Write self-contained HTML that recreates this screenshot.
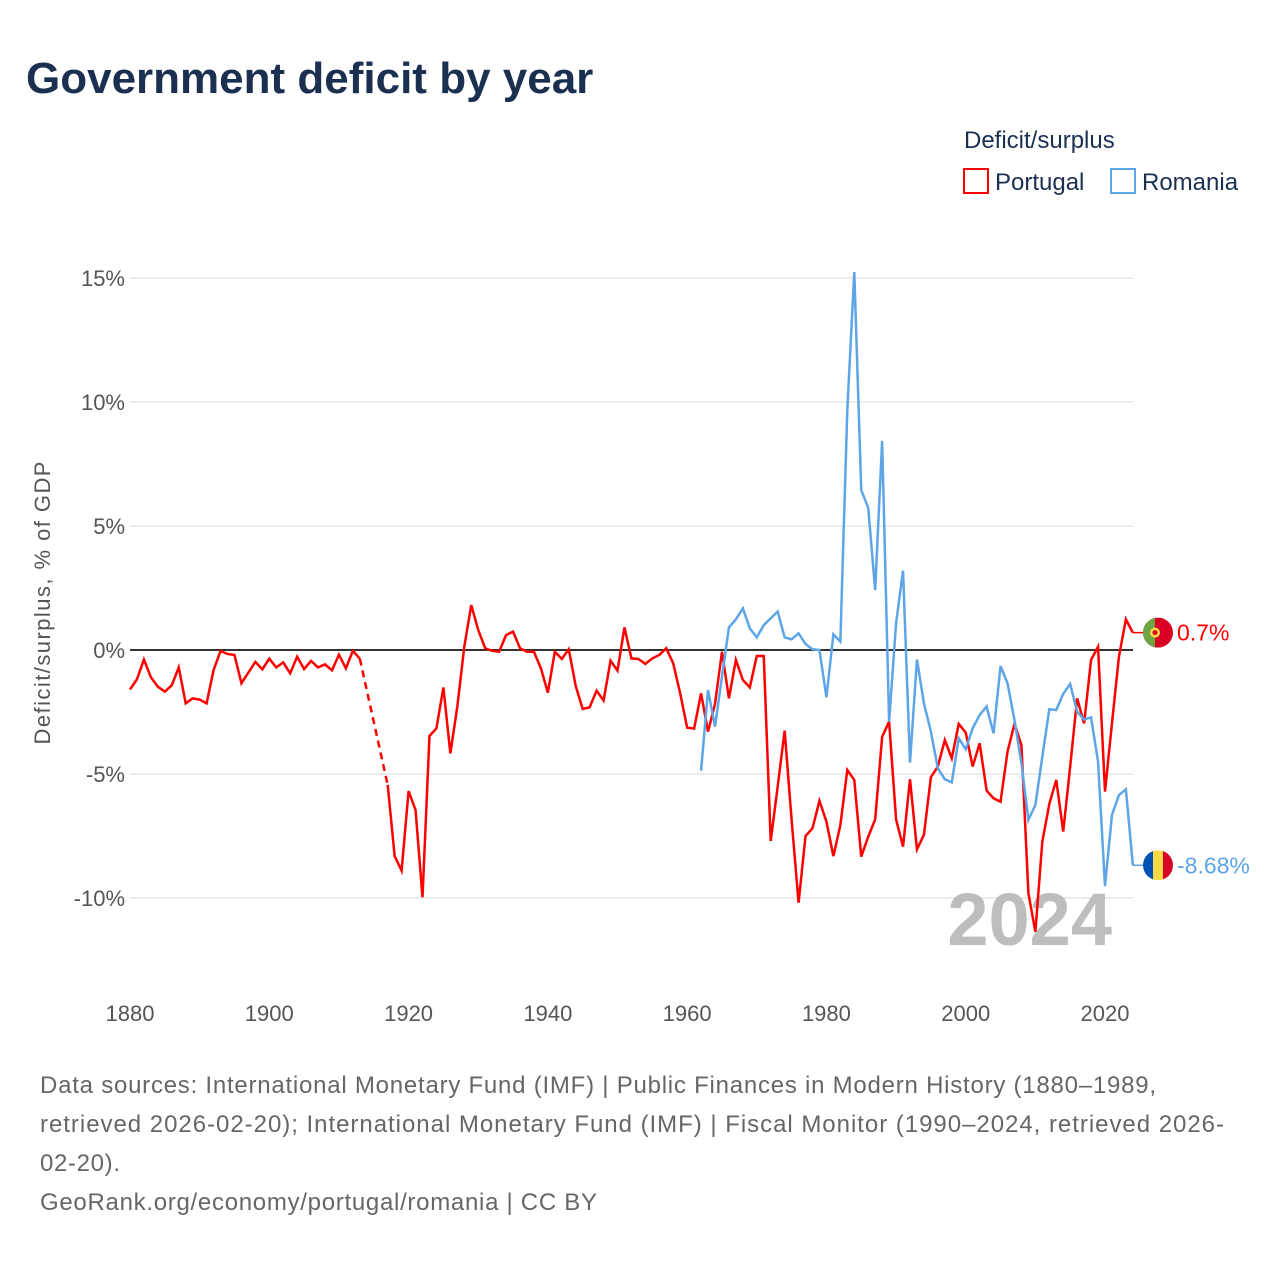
<!DOCTYPE html>
<html><head><meta charset="utf-8"><style>
body{margin:0;background:#fff;font-family:"Liberation Sans",sans-serif;}
#wrap{position:relative;width:1280px;height:1280px;overflow:hidden;}
</style></head><body>
<div id="wrap">
<svg id="chart" width="1280" height="1280" xmlns="http://www.w3.org/2000/svg">
<text x="26" y="93" font-size="44" font-weight="bold" fill="#1b3050">Government deficit by year</text>
<text x="964" y="148" font-size="24" fill="#1b3050">Deficit/surplus</text>
<g><rect x="964" y="169" width="24" height="24" fill="none" stroke="#ff0000" stroke-width="2"/><text x="995" y="190" font-size="24" fill="#1b3050">Portugal</text></g>
<g><rect x="1111" y="169" width="24" height="24" fill="none" stroke="#5ea5e8" stroke-width="2"/><text x="1142" y="190" font-size="24" fill="#1b3050">Romania</text></g>
<text transform="translate(50,603) rotate(-90)" text-anchor="middle" font-size="22" textLength="283" fill="#555">Deficit/surplus, % of GDP</text>
<g id="grid"></g><g id="yt"></g><g id="xt"></g>
<text x="1112" y="945" text-anchor="end" font-size="74" font-weight="bold" fill="#bdbdbd">2024</text>
<g id="series"></g>
<g font-size="24" fill="#666">
<text x="40" y="1093" textLength="1116">Data sources: International Monetary Fund (IMF) | Public Finances in Modern History (1880–1989,</text>
<text x="40" y="1132" textLength="1184">retrieved 2026-02-20); International Monetary Fund (IMF) | Fiscal Monitor (1990–2024, retrieved 2026-</text>
<text x="40" y="1171" textLength="80">02-20).</text>
<text x="40" y="1210" textLength="557">GeoRank.org/economy/portugal/romania | CC BY</text>
</g>
</svg></div>
<script>
const yTicks=[15,10,5,0,-5,-10];
const yTickLabels=["15%","10%","5%","0%","-5%","-10%"];
const xTicks=[1880,1900,1920,1940,1960,1980,2000,2020];
const portugalStart=1880;
const portugalValues=[-1.59,-1.18,-0.38,-1.10,-1.48,-1.68,-1.42,-0.70,-2.15,-1.95,-2.0,-2.15,-0.81,-0.04,-0.16,-0.20,-1.34,-0.91,-0.48,-0.78,-0.35,-0.70,-0.50,-0.94,-0.27,-0.77,-0.44,-0.70,-0.58,-0.82,-0.19,-0.74,-0.03,-0.35,
null,null,null,-5.44,-8.31,-8.9,-5.69,-6.45,-9.97,-3.47,-3.16,-1.51,-4.17,-2.28,0.13,1.81,0.81,0.07,-0.03,-0.07,0.60,0.74,0.07,-0.07,-0.07,-0.74,-1.72,-0.07,-0.36,0.03,-1.45,-2.38,-2.31,-1.64,-2.04,-0.43,-0.83,0.91,-0.34,-0.36,-0.56,-0.34,-0.20,0.07,-0.54,-1.75,-3.13,-3.17,-1.75,-3.29,-2.18,-0.07,-1.95,-0.40,-1.21,-1.51,-0.24,-0.24,-7.7,-5.51,-3.25,-6.85,-10.19,-7.5,-7.19,-6.08,-6.92,-8.31,-7.06,-4.84,-5.24,-8.33,-7.53,-6.83,-3.5,-2.89,-6.83,-7.93,-5.21,-8.04,-7.45,-5.13,-4.70,-3.63,-4.37,-2.98,-3.33,-4.70,-3.76,-5.67,-5.98,-6.12,-4.10,-2.98,-3.83,-9.81,-11.36,-7.73,-6.21,-5.24,-7.32,-4.70,-1.95,-2.96,-0.40,0.13,-5.71,-2.96,-0.27,1.24,0.7];
const romaniaStart=1962;
const romaniaValues=[-4.87,-1.61,-3.09,-1.08,0.91,1.24,1.68,0.87,0.51,1.0,1.28,1.55,0.51,0.43,0.67,0.24,0.03,0.0,-1.91,0.63,0.34,9.7,15.24,6.45,5.73,2.42,8.43,-2.89,1.08,3.2,-4.54,-0.38,-2.15,-3.29,-4.77,-5.21,-5.34,-3.56,-4.0,-3.16,-2.62,-2.28,-3.36,-0.65,-1.34,-2.82,-4.57,-6.85,-6.25,-4.30,-2.39,-2.42,-1.77,-1.37,-2.49,-2.80,-2.72,-4.50,-9.52,-6.65,-5.85,-5.62,-8.68];

const NS="http://www.w3.org/2000/svg";
const X=y=>130+(y-1880)*(975/140);
const Y=v=>650-v*24.8;
function mk(tag,parent){const e=document.createElementNS(NS,tag);document.getElementById(parent).appendChild(e);return e;}
yTicks.forEach((t,i)=>{
  const l=mk('line','grid');
  
  
  l.setAttribute('x1',130);l.setAttribute('x2',1133);l.setAttribute('y1',Y(t));l.setAttribute('y2',Y(t));
  l.setAttribute('stroke',t===0?'#333':'#e6e6e6');l.setAttribute('stroke-width',t===0?2:1.5);
  const tx=mk('text','yt');
  
  
  tx.setAttribute('x',125);tx.setAttribute('y',Y(t)+8);tx.setAttribute('text-anchor','end');
  tx.setAttribute('font-size','22');tx.setAttribute('fill','#555');tx.textContent=yTickLabels[i];
});
xTicks.forEach(t=>{
  const tx=mk('text','xt');
  
  
  tx.setAttribute('x',X(t));tx.setAttribute('y',1021);tx.setAttribute('text-anchor','middle');
  tx.setAttribute('font-size','22');tx.setAttribute('fill','#555');tx.textContent=t;
});
function drawSeries(start,vals,color,name){
  let segs=[],cur=[],prev=null,gaps=[];
  vals.forEach((v,i)=>{
    if(v===null){if(cur.length){segs.push(cur);prev=cur[cur.length-1];cur=[];}return;}
    const p=[X(start+i),Y(v)];
    if(!cur.length&&prev){gaps.push([prev,p]);prev=null;}
    cur.push(p);
  });
  if(cur.length)segs.push(cur);
  segs.forEach(s=>{
    const pl=mk('polyline','series');
    
    
    pl.setAttribute('points',s.map(p=>p.join(',')).join(' '));
    pl.setAttribute('fill','none');pl.setAttribute('stroke',color);pl.setAttribute('stroke-width',2.5);pl.setAttribute('stroke-linejoin','miter');
  });
  gaps.forEach(g=>{
    const l=mk('line','series');
    
    
    l.setAttribute('x1',g[0][0]);l.setAttribute('y1',g[0][1]);l.setAttribute('x2',g[1][0]);l.setAttribute('y2',g[1][1]);
    l.setAttribute('stroke',color);l.setAttribute('stroke-width',2.5);l.setAttribute('stroke-dasharray','7,5');
  });
  const last=vals[vals.length-1],lx=X(start+vals.length-1),ly=Y(last);
  const c=mk('line','series');
  
  
  c.setAttribute('x1',lx);c.setAttribute('y1',ly);c.setAttribute('x2',1145);c.setAttribute('y2',ly);
  c.setAttribute('stroke',color);c.setAttribute('stroke-width',1.5);
  return [ly,last];
}
function flag(cy,kind){
  const g=mk('g','series');
  
  
  const cx=1158,r=15;
  const id='clip'+kind;
  g.innerHTML=`<clipPath id="${id}"><circle cx="${cx}" cy="${cy}" r="${r}"/></clipPath>`+
   (kind==='portugal'?
   `<g clip-path="url(#${id})"><rect x="${cx-r}" y="${cy-r}" width="${r*2}" height="${r*2}" fill="#da0024"/><rect x="${cx-r}" y="${cy-r}" width="12" height="${r*2}" fill="#6da544"/><circle cx="${cx-3}" cy="${cy}" r="5" fill="#ffda44"/><circle cx="${cx-3}" cy="${cy}" r="2.5" fill="#da0024"/></g>`:
   `<g clip-path="url(#${id})"><rect x="${cx-r}" y="${cy-r}" width="10" height="${r*2}" fill="#0052b4"/><rect x="${cx-5}" y="${cy-r}" width="10" height="${r*2}" fill="#ffda44"/><rect x="${cx+5}" y="${cy-r}" width="10" height="${r*2}" fill="#d80027"/></g>`);
}
const pe=drawSeries(portugalStart,portugalValues,'#ff0000','portugal');
const re=drawSeries(romaniaStart,romaniaValues,'#5ea5e8','romania');
flag(pe[0],'portugal');flag(re[0],'romania');
[[pe,'#ff0000','portugal'],[re,'#5ea5e8','romania']].forEach(([e,col,n])=>{
  const t=mk('text','series');
  
  
  t.setAttribute('x',1177);t.setAttribute('y',e[0]+8);t.setAttribute('font-size','23');t.setAttribute('fill',col);
  t.textContent=e[1]+'%';
});
</script>
</body></html>
